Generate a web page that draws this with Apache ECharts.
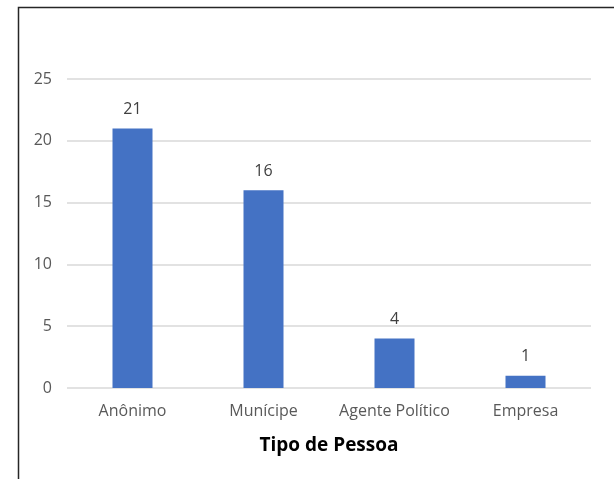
<!DOCTYPE html>
<html>
<head>
<meta charset="utf-8">
<script src="https://cdn.jsdelivr.net/npm/echarts@6/dist/echarts.min.js"></script>
<style>
html,body{margin:0;padding:0;background:#fff;}
#chart{width:614px;height:479px;}
</style>
</head>
<body>
<div id="chart"></div>
<script>
const categories = ['Anônimo', 'Munícipe', 'Agente Político', 'Empresa'];
const values = [21, 16, 4, 1];
const yTicks = [0, 5, 10, 15, 20, 25];
const axisTitle = 'Tipo de Pessoa';

const chart = echarts.init(document.getElementById('chart'), null, {renderer: 'canvas'});
const font = '"Open Sans", Lato, sans-serif';
chart.setOption({
  animation: false,
  backgroundColor: '#fff',
  graphic: [{
    type: 'rect',
    shape: {x: 18.5, y: 7.5, width: 700, height: 600},
    style: {fill: 'none', stroke: '#262626', lineWidth: 1.5},
    silent: true
  }],
  grid: {left: 67, right: 23, top: 79, bottom: 91},
  xAxis: {
    type: 'category',
    data: categories,
    axisLine: {show: false},
    axisTick: {show: false},
    axisLabel: {color: '#595959', fontSize: 16, fontFamily: font, margin: 15, interval: 0},
    name: axisTitle,
    nameLocation: 'middle',
    nameGap: 48,
    nameTextStyle: {color: '#000', fontSize: 19, fontWeight: 'bold', fontFamily: font}
  },
  yAxis: {
    type: 'value',
    min: yTicks[0],
    max: yTicks[yTicks.length - 1],
    interval: 5,
    axisLine: {show: false},
    axisTick: {show: false},
    axisLabel: {color: '#595959', fontSize: 16, fontFamily: font, margin: 15},
    splitLine: {lineStyle: {color: '#d9d9d9', width: 1.5}}
  },
  series: [{
    type: 'bar',
    data: values,
    barWidth: 40,
    itemStyle: {color: '#4472c4'},
    label: {show: true, position: 'top', distance: 11, color: '#404040', fontSize: 16, fontFamily: font}
  }]
});
</script>
</body>
</html>
